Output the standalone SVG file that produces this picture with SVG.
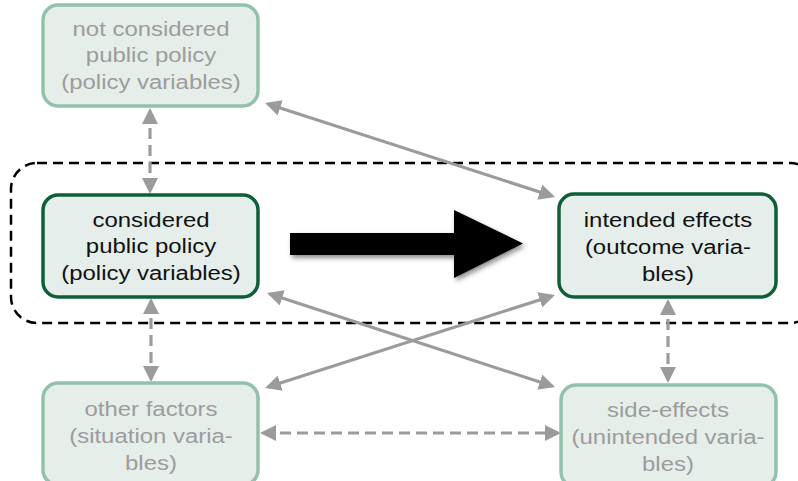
<svg xmlns="http://www.w3.org/2000/svg" width="798" height="481" viewBox="0 0 798 481">
<defs>
<marker id="ah" markerUnits="userSpaceOnUse" markerWidth="16" markerHeight="16" viewBox="0 0 16 16" refX="13" refY="8" orient="auto-start-reverse">
<path d="M0,0 L16,8 L0,16 z" fill="#9b9b9b"/>
</marker>
<filter id="sh" x="-10%" y="-20%" width="130%" height="160%">
<feGaussianBlur in="SourceAlpha" stdDeviation="2.5"/>
<feOffset dx="2" dy="3" result="b"/>
<feComponentTransfer><feFuncA type="linear" slope="0.45"/></feComponentTransfer>
<feMerge><feMergeNode/><feMergeNode in="SourceGraphic"/></feMerge>
</filter>
</defs>
<style>
.light rect{fill:#e6eeea;stroke:#93c1ab;stroke-width:3.5}
.dark rect{fill:#e5eeea;stroke:#0d5f37;stroke-width:3.5}
text{font-family:"Liberation Sans",Arial,sans-serif;font-size:21px;text-anchor:middle}
.light text{fill:#9c9c9c}
.dark text{fill:#111}
.c{fill:none;stroke:#9b9b9b;stroke-width:3.2;marker-start:url(#ah);marker-end:url(#ah)}
.d{stroke-dasharray:11 6}
</style>
<rect x="11" y="163" width="805" height="160" rx="26" fill="none" stroke="#000" stroke-width="2.5" stroke-dasharray="10 6"/>
<g id="connectors">
<path class="c d" d="M150,111 L150,191"/>
<path class="c" d="M267.9,103.9 L552.1,196.1"/>
<path class="c d" d="M151,301 L151,379"/>
<path class="c" d="M269.9,293.9 L552.1,386.1"/>
<path class="c" d="M267.9,387.1 L552.1,295.9"/>
<path class="c d" d="M263,433 L558,433"/>
<path class="c d" d="M668,302 L668,380"/>
<path id="bigarrow" d="M290,233 L454,233 L454,210 L523,243.5 L454,278 L454,255 L290,255 z" fill="#000" filter="url(#sh)"/>
</g>
<g id="n-notconsidered" class="light">
<rect x="43" y="5" width="215" height="101" rx="15"/>
<g transform="translate(151,0) scale(1.14,1)"><text x="0" y="36">not considered</text><text x="0" y="62.5">public policy</text><text x="0" y="89">(policy variables)</text></g>
</g>
<g id="n-considered" class="dark">
<rect x="43" y="195" width="215" height="102" rx="15"/>
<g transform="translate(151,0) scale(1.14,1)"><text x="0" y="227">considered</text><text x="0" y="253.5">public policy</text><text x="0" y="280">(policy variables)</text></g>
</g>
<g id="n-intended" class="dark">
<rect x="559" y="194" width="217" height="103" rx="15"/>
<g transform="translate(668,0) scale(1.14,1)"><text x="0" y="227">intended effects</text><text x="0" y="254">(outcome varia-</text><text x="0" y="281">bles)</text></g>
</g>
<g id="n-other" class="light">
<rect x="43" y="383" width="215" height="102" rx="15"/>
<g transform="translate(151,0) scale(1.14,1)"><text x="0" y="416">other factors</text><text x="0" y="443">(situation varia-</text><text x="0" y="470">bles)</text></g>
</g>
<g id="n-side" class="light">
<rect x="561" y="385" width="215" height="102" rx="15"/>
<g transform="translate(668,0) scale(1.14,1)"><text x="0" y="417">side-effects</text><text x="0" y="444">(unintended varia-</text><text x="0" y="471">bles)</text></g>
</g>
</svg>
